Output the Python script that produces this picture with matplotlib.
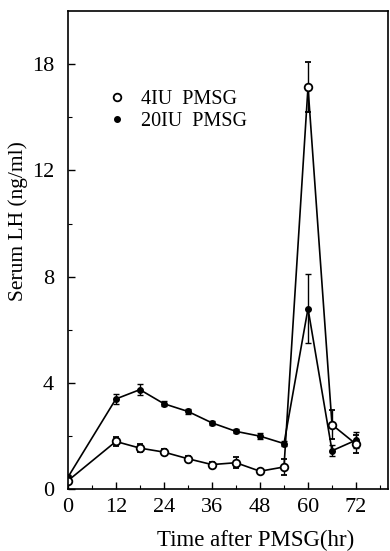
import numpy as np
import matplotlib
matplotlib.use("Agg")
import matplotlib.pyplot as plt
from matplotlib.lines import Line2D
from matplotlib.ticker import FixedLocator

plt.rcParams['font.family'] = ['Liberation Serif', 'DejaVu Serif']

# time after PMSG (hr)
hours = [0, 12, 18, 24, 30, 36, 42, 48, 54, 60, 66, 72]

# 4IU PMSG (open symbols)
lh_4iu = [0.32, 1.8, 1.55, 1.4, 1.15, 0.93, 1.0, 0.68, 0.84, 16.7, 2.43, 1.7]
err_4iu = [0.1, 0.17, 0.15, 0.1, 0.1, 0.08, 0.2, 0.08, 0.3, 1.4, 0.55, 0.35]

# 20IU PMSG (filled symbols)
lh_20iu = [0.45, 3.4, 3.75, 3.22, 2.93, 2.5, 2.18, 2.0, 1.72, 6.8, 1.45, 1.85]
err_20iu = [0.1, 0.2, 0.2, 0.1, 0.08, 0.08, 0.08, 0.1, 0.1, 1.3, 0.2, 0.3]

y_ticks = [0, 4, 8, 12, 18]
x_ticks = [0, 12, 24, 36, 48, 60, 72]


# axis is linear to 12, then compressed (12 -> 18 takes one tick step)
def fwd(y):
    y = np.asarray(y, dtype=float)
    return np.where(y <= 12, y, 12 + (y - 12) * 4.0 / 6.0)


def inv(t):
    t = np.asarray(t, dtype=float)
    return np.where(t <= 12, t, 12 + (t - 12) * 6.0 / 4.0)


fig = plt.figure(figsize=(3.9, 5.51), dpi=100)
ax = fig.add_axes([0.174, 0.112, 0.821, 0.868])
ax.set_yscale('function', functions=(fwd, inv))

ax.errorbar(hours, lh_20iu, yerr=err_20iu, color='black', lw=1.2,
            marker='o', ms=4, mfc='black', mec='black',
            elinewidth=1.0, capsize=2.5, capthick=1.0)
ax.errorbar(hours, lh_4iu, yerr=err_4iu, color='black', lw=1.2,
            marker='o', ms=5.5, mfc='white', mec='black', mew=1.3,
            elinewidth=1.0, capsize=2.5, capthick=1.0)

ax.set_xlim(0, 80)
ax.set_ylim(0, 21)
ax.set_xticks(x_ticks)
ax.set_yticks(y_ticks)
ax.set_yticklabels([str(v) for v in y_ticks])
ax.xaxis.set_minor_locator(FixedLocator([6, 18, 30, 42, 54, 66, 78]))
ax.yaxis.set_minor_locator(FixedLocator([2, 6, 10, 15]))
ax.tick_params(which='major', direction='in', length=5, width=1, labelsize=16)
ax.tick_params(axis='y', which='major', pad=10)
ax.tick_params(axis='x', which='major', pad=6)
ax.tick_params(which='minor', direction='in', length=3, width=0.8)
for s in ax.spines.values():
    s.set_linewidth(1.2)

ax.set_xlabel('Time after PMSG(hr)', fontsize=16.5)
ax.set_ylabel('Serum LH (ng/ml)', fontsize=15.5)
ax.xaxis.set_label_coords(0.5875, -0.085)
ax.yaxis.set_label_coords(-0.125, 0.561)

handles = [
    Line2D([], [], ls='none', marker='o', ms=5.5, mfc='white', mec='black', mew=1.3),
    Line2D([], [], ls='none', marker='o', ms=4, mfc='black', mec='black'),
]
ax.legend(handles, ['4IU  PMSG', '20IU  PMSG'], loc='upper left',
          bbox_to_anchor=(0.065, 0.872), frameon=False,
          fontsize=14.5, handletextpad=0.7, labelspacing=0.1, handlelength=1.0)

fig.savefig('out.png', dpi=100)
